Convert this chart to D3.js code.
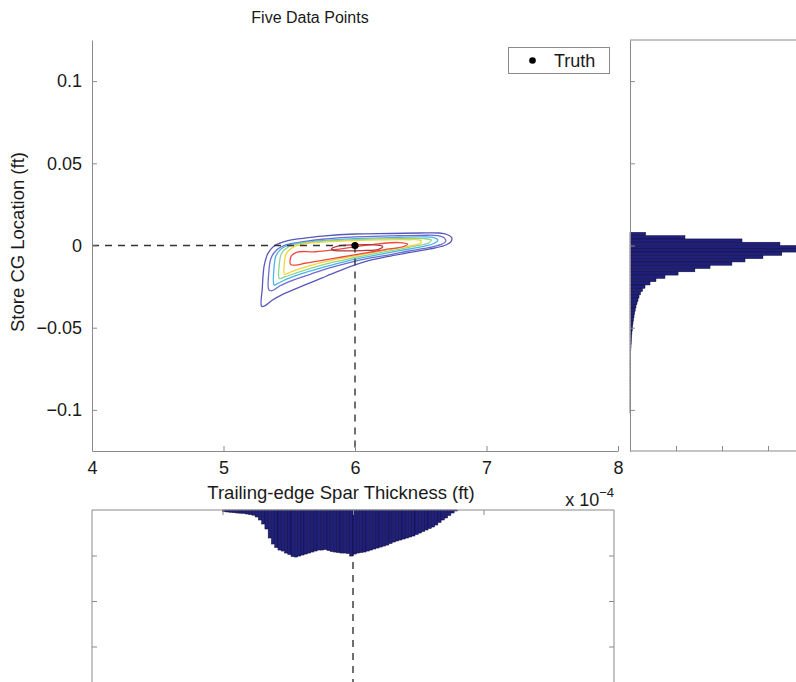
<!DOCTYPE html>
<html><head><meta charset="utf-8">
<script src="https://cdn.jsdelivr.net/npm/d3@7"></script>
<style>
body{margin:0;background:#fff}
text{font-family:"Liberation Sans",Arial,Helvetica,sans-serif;fill:#1a1a1a}
</style>
</head><body>
<svg id="c" width="796" height="682"></svg>
<script>
// ---------- data ----------
const xTicks = [4, 5, 6, 7, 8];
const yTicks = [-0.1, -0.05, 0, 0.05, 0.1];
const yTickLabels = ["\u22120.1", "\u22120.05", "0", "0.05", "0.1"];
const truth = [6, 0];
const titleText = "Five Data Points";
const xLabel = "Trailing-edge Spar Thickness (ft)";
const yLabel = "Store CG Location (ft)";
const countTicks = [1000, 2000, 3000];

// contour rings (x in 1e-4 ft, y in ft), outer -> inner
const ring1 = [[5.29,-0.037],[5.295,-0.026],[5.31,-0.012],[5.34,-0.0045],[5.39,0],[5.49,0.003],[5.62,0.0045],[5.75,0.0057],[6.0,0.007],[6.27,0.0073],[6.49,0.0076],[6.64,0.0076],[6.70,0.0067],[6.735,0.0048],[6.73,0.0024],[6.68,0],[6.57,-0.0021],[6.42,-0.0042],[6.27,-0.0064],[6.11,-0.0091],[6.0,-0.0118],[5.87,-0.0158],[5.75,-0.0197],[5.62,-0.024],[5.52,-0.0273],[5.45,-0.0297],[5.37,-0.0333],[5.32,-0.0364]];
const ring2 = [[5.345,-0.027],[5.345,-0.016],[5.36,-0.008],[5.40,-0.003],[5.48,0.0005],[5.62,0.0025],[5.75,0.0038],[6.0,0.0052],[6.27,0.0058],[6.5,0.0062],[6.63,0.006],[6.68,0.0045],[6.69,0.0025],[6.65,0.0005],[6.55,-0.0015],[6.4,-0.0035],[6.27,-0.0055],[6.1,-0.0078],[5.95,-0.0105],[5.8,-0.0138],[5.66,-0.0175],[5.53,-0.021],[5.43,-0.0245],[5.37,-0.0275]];
const ring3 = [[5.385,-0.024],[5.385,-0.013],[5.40,-0.006],[5.44,-0.002],[5.52,0.0008],[5.65,0.0022],[5.8,0.0033],[6.0,0.0042],[6.27,0.0048],[6.5,0.0052],[6.6,0.0048],[6.63,0.0032],[6.6,0.0012],[6.5,-0.0008],[6.35,-0.003],[6.2,-0.0052],[6.05,-0.0075],[5.9,-0.0102],[5.75,-0.0135],[5.6,-0.017],[5.48,-0.0205],[5.41,-0.0232]];
const ring4 = [[5.425,-0.020],[5.425,-0.011],[5.44,-0.005],[5.49,-0.001],[5.58,0.0012],[5.72,0.0024],[5.9,0.0032],[6.1,0.0038],[6.35,0.0042],[6.52,0.0042],[6.58,0.0033],[6.56,0.0015],[6.45,-0.0005],[6.3,-0.0028],[6.15,-0.005],[6.0,-0.0073],[5.85,-0.0098],[5.7,-0.013],[5.56,-0.0165],[5.47,-0.019]];
const ring5 = [[5.465,-0.0175],[5.465,-0.009],[5.48,-0.0045],[5.53,-0.001],[5.62,0.001],[5.78,0.0022],[6.0,0.003],[6.2,0.0034],[6.4,0.0035],[6.5,0.003],[6.5,0.0015],[6.4,-0.0005],[6.25,-0.0027],[6.1,-0.0048],[5.95,-0.007],[5.8,-0.0093],[5.66,-0.0122],[5.55,-0.015],[5.49,-0.0168]];
const ring6 = [[5.51,-0.0115],[5.515,-0.0065],[5.56,-0.004],[5.7,-0.0038],[5.85,-0.0025],[6.0,-0.0008],[6.18,0.001],[6.33,0.0018],[6.4,0.0009],[6.37,-0.0006],[6.22,-0.0026],[6.05,-0.005],[5.9,-0.007],[5.75,-0.009],[5.62,-0.0108],[5.55,-0.0119]];
const ring7 = [[5.82,-0.0022],[5.87,-0.0004],[6.0,0.0004],[6.13,0.0005],[6.21,-0.0005],[6.18,-0.0023],[6.05,-0.0031],[5.92,-0.0033],[5.85,-0.0031]];
const rings = [ring1, ring2, ring3, ring4, ring5, ring6, ring7];
const ringColors = ["#5858b8", "#6c6cd0", "#4ab4ec", "#8cd68c", "#f2d43c", "#ee4a3c", "#b0363a"];

// right marginal histogram (Store CG), bins of 0.002 starting at top edge 0.008
const rightTop = 0.008, rightBin = 0.002;
const rightCounts = [340,1195,2435,3260,4200,3800,3300,2890,2500,2215,1740,1410,1045,760,565,435,326,272,228,196,174,152,130,113,100,87,76,65,57,48,41,35,30,26,22,19,16,14,12,10,9,8,7,6,5,4,4,3,3,2,2,2,1,1,1];

// bottom marginal histogram (spar thickness), bins of 0.025 starting at 5.0
const bottomStart = 5.0, bottomBin = 0.025;
const bottomCounts = [33,44,51,59,66,70,75,88,101,114,154,220,308,418,616,748,825,880,902,946,979,1023,1034,1012,990,968,946,924,902,880,880,869,891,913,924,935,946,946,957,1012,968,946,935,924,902,880,858,836,814,792,770,737,704,682,660,638,616,594,572,539,506,473,440,407,374,330,275,220,176,121,66,22];

// ---------- drawing ----------
const svg = d3.select("#c");
svg.append("rect").attr("width",796).attr("height",682).attr("fill","#fff");
const axisCol = "#8a8a8a";
const barFill = "#20207a", barStroke = "#0a0a3c";

const x = d3.scaleLinear().domain([4, 8]).range([92, 618]);
const y = d3.scaleLinear().domain([-0.125, 0.125]).range([451, 40]);
const xb = d3.scaleLinear().domain([4, 8]).range([92, 614]);
const cb = d3.scaleLinear().domain([0, 1000]).range([510, 555.5]);
const cr = d3.scaleLinear().domain([0, 1000]).range([630, 676]);

function styleAxis(g, fs){
  g.select(".domain").attr("stroke", axisCol);
  g.selectAll(".tick line").attr("stroke", axisCol);
  g.selectAll(".tick text").attr("font-size", fs).attr("fill","#1a1a1a")
    .attr("font-family", '"Liberation Sans",Arial,sans-serif');
}

// ---- right histogram ----
const rg = svg.append("g");
rg.selectAll("rect").data(rightCounts).join("rect")
  .attr("x", cr(0))
  .attr("y", (d,i) => y(rightTop - rightBin*i))
  .attr("width", d => cr(d) - cr(0))
  .attr("height", (d,i) => y(rightTop - rightBin*(i+1)) - y(rightTop - rightBin*i))
  .attr("fill", barFill).attr("stroke", barStroke).attr("stroke-width", 0.5);
const rAxL = svg.append("g").attr("transform", `translate(${cr(0)},0)`)
  .call(d3.axisLeft(y).tickValues(yTicks).tickSize(-5).tickSizeOuter(0).tickFormat(""));
styleAxis(rAxL, 0);
const rAxB = svg.append("g").attr("transform", `translate(0,${y(-0.125)})`)
  .call(d3.axisBottom(cr).tickValues(countTicks).tickSize(-5).tickSizeOuter(0).tickFormat(""));
rAxB.select(".domain").remove();
styleAxis(rAxB, 0);
svg.append("line").attr("x1", cr(0)).attr("x2", 796).attr("y1", y(-0.125)).attr("y2", y(-0.125)).attr("stroke", axisCol);
svg.append("line").attr("x1", cr(0)).attr("x2", 796).attr("y1", y(0.125)).attr("y2", y(0.125)).attr("stroke", axisCol);

// ---- bottom histogram ----
svg.append("line")
  .attr("x1", xb(truth[0])).attr("x2", xb(truth[0])).attr("y1", cb(0)).attr("y2", 682)
  .attr("stroke", "#333").attr("stroke-width", 1.4).attr("stroke-dasharray", "7,6");
const bg = svg.append("g");
bg.selectAll("rect").data(bottomCounts).join("rect")
  .attr("x", (d,i) => xb(bottomStart + bottomBin*i))
  .attr("y", cb(0))
  .attr("width", (d,i) => xb(bottomStart + bottomBin*(i+1)) - xb(bottomStart + bottomBin*i))
  .attr("height", d => cb(d) - cb(0))
  .attr("fill", barFill).attr("stroke", barStroke).attr("stroke-width", 0.5);
const bAxT = svg.append("g").attr("transform", `translate(0,${cb(0)})`)
  .call(d3.axisTop(xb).tickValues([5,6,7]).tickSize(-5).tickSizeOuter(0).tickFormat(""));
bAxT.select(".domain").remove();
styleAxis(bAxT, 0);
svg.append("line").attr("x1", xb(4)).attr("x2", xb(8)).attr("y1", cb(0)).attr("y2", cb(0)).attr("stroke", axisCol);
const bAxL = svg.append("g").attr("transform", `translate(${xb(4)},0)`)
  .call(d3.axisLeft(cb).tickValues(countTicks).tickSize(-5).tickSizeOuter(0).tickFormat(""));
bAxL.select(".domain").remove(); styleAxis(bAxL, 0);
const bAxR = svg.append("g").attr("transform", `translate(${xb(8)},0)`)
  .call(d3.axisRight(cb).tickValues(countTicks).tickSize(-5).tickSizeOuter(0).tickFormat(""));
bAxR.select(".domain").remove(); styleAxis(bAxR, 0);
svg.append("line").attr("x1", xb(4)).attr("x2", xb(4)).attr("y1", cb(0)).attr("y2", 682).attr("stroke", axisCol);
svg.append("line").attr("x1", xb(8)).attr("x2", xb(8)).attr("y1", cb(0)).attr("y2", 682).attr("stroke", axisCol);

// ---- main plot ----
const line = d3.line().x(d => x(d[0])).y(d => y(d[1])).curve(d3.curveCatmullRomClosed.alpha(0.5));
svg.append("g").selectAll("path").data(rings).join("path")
  .attr("d", line).attr("fill", "none")
  .attr("stroke", (d,i) => ringColors[i]).attr("stroke-width", 1.3);

svg.append("line").attr("x1", x(4)).attr("x2", x(truth[0])).attr("y1", y(truth[1])).attr("y2", y(truth[1]))
  .attr("stroke", "#333").attr("stroke-width", 1.4).attr("stroke-dasharray", "7,6");
svg.append("line").attr("x1", x(truth[0])).attr("x2", x(truth[0])).attr("y1", y(truth[1])).attr("y2", y(-0.125))
  .attr("stroke", "#333").attr("stroke-width", 1.4).attr("stroke-dasharray", "7,6");
svg.append("circle").attr("cx", x(truth[0])).attr("cy", y(truth[1])).attr("r", 3.6).attr("fill", "#000");

const axL = svg.append("g").attr("transform", `translate(${x(4)},0)`)
  .call(d3.axisLeft(y).tickValues(yTicks).tickSize(-5).tickSizeOuter(0).tickPadding(10)
    .tickFormat((d,i) => yTickLabels[i]));
styleAxis(axL, 18);
const axB = svg.append("g").attr("transform", `translate(0,${y(-0.125)})`)
  .call(d3.axisBottom(x).tickValues(xTicks).tickSize(-5).tickSizeOuter(0).tickPadding(10)
    .tickFormat(d3.format("d")));
styleAxis(axB, 18);

// labels
svg.append("text").attr("x", 310).attr("y", 23).attr("text-anchor", "middle").attr("font-size", 16).text(titleText);
svg.append("text").attr("x", 341).attr("y", 499).attr("text-anchor", "middle").attr("font-size", 18.5).text(xLabel);
svg.append("text").attr("transform", "translate(24,242) rotate(-90)").attr("text-anchor", "middle").attr("font-size", 18.5).text(yLabel);
const sc = svg.append("text").attr("x", 614).attr("y", 506).attr("text-anchor", "end").attr("font-size", 18);
sc.append("tspan").text("x 10");
sc.append("tspan").attr("dy", -9).attr("font-size", 13).text("\u22124");

// legend
svg.append("rect").attr("x", 508.5).attr("y", 47.5).attr("width", 101).attr("height", 26)
  .attr("fill", "#fff").attr("stroke", axisCol);
svg.append("circle").attr("cx", 532.5).attr("cy", 60.5).attr("r", 3.3).attr("fill", "#000");
svg.append("text").attr("x", 554).attr("y", 67).attr("font-size", 18).text("Truth");
</script>
</body></html>
